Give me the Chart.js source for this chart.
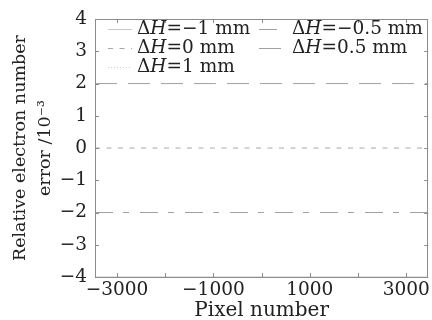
<!DOCTYPE html>
<html>
<head>
<meta charset="utf-8">
<script src="https://cdn.jsdelivr.net/npm/chart.js@4/dist/chart.umd.min.js"></script>
<style>
html,body{margin:0;padding:0;background:#fff;}
#wrap{width:432px;height:320px;position:relative;}
</style>
</head>
<body>
<div id="wrap"><canvas id="c" width="432" height="320"></canvas></div>
<script>
// ---- data ----
const pixelNumbers = [-3456, -3000, -2000, -1000, 0, 1000, 2000, 3000, 3456];
const seriesLabels = ['ΔH=−1 mm', 'ΔH=−0.5 mm', 'ΔH=0 mm', 'ΔH=0.5 mm', 'ΔH=1 mm'];
const errDHm1  = [-4, -4, -4, -4, -4, -4, -4, -4, -4];
const errDHm05 = [-2, -2, -2, -2, -2, -2, -2, -2, -2];
const errDH0   = [0, 0, 0, 0, 0, 0, 0, 0, 0];
const errDH05  = [2, 2, 2, 2, 2, 2, 2, 2, 2];
const errDH1   = [4, 4, 4, 4, 4, 4, 4, 4, 4];
const xTickValues = [-3000, -1000, 1000, 3000];
const yTickValues = [-4, -3, -2, -1, 0, 1, 2, 3, 4];

const FONT = 'DejaVu Serif';
const TXT = '#222';
const FRAME = '#8c8c8c';
const LEG_SIZE = 18.5;

function pts(ys){ return pixelNumbers.map((x,i)=>({x:x,y:ys[i]})); }

const styles = [
  {color:'#c8c8c8', dash:[]},
  {color:'#a0a0a0', dash:[18,10,6,11]},
  {color:'#a8a8a8', dash:[5,6.5]},
  {color:'#a0a0a0', dash:[22,11]},
  {color:'#d0d0d0', dash:[1,2]}
];
const allSeries = [errDHm1, errDHm05, errDH0, errDH05, errDH1];

const datasets = allSeries.map((s,i)=>({
  label: seriesLabels[i],
  data: pts(s),
  borderColor: styles[i].color,
  borderDash: styles[i].dash,
  borderWidth: 1,
  pointRadius: 0,
  fill: false,
  tension: 0
}));

const framePlugin = {
  id:'frame',
  afterDraw(chart){
    const {ctx, chartArea:a, scales} = chart;
    ctx.save();
    ctx.strokeStyle = FRAME;
    ctx.lineWidth = 1;
    ctx.strokeRect(Math.round(a.left)+0.5, Math.round(a.top)+0.5, Math.round(a.right-a.left)-1, Math.round(a.bottom-a.top));
    ctx.beginPath();
    scales.x.ticks.forEach(t=>{
      const px = Math.round(scales.x.getPixelForValue(t.value))+0.5;
      ctx.moveTo(px, a.bottom); ctx.lineTo(px, a.bottom-4);
      ctx.moveTo(px, a.top); ctx.lineTo(px, a.top+4);
    });
    scales.y.ticks.forEach(t=>{
      const py = Math.round(scales.y.getPixelForValue(t.value))+0.5;
      ctx.moveTo(a.left, py); ctx.lineTo(a.left+4, py);
      ctx.moveTo(a.right, py); ctx.lineTo(a.right-4, py);
    });
    ctx.stroke();
    ctx.restore();
  }
};

const legendPlugin = {
  id:'innerLegend',
  afterDraw(chart){
    const ctx = chart.ctx;
    const pos = [
      {sx:108, tx:137, y:29},
      {sx:259, tx:292, y:29},
      {sx:108, tx:137, y:48},
      {sx:259, tx:292, y:48},
      {sx:108, tx:137, y:67}
    ];
    ctx.save();
    chart.data.datasets.forEach((ds,i)=>{
      const p = pos[i];
      ctx.strokeStyle = ds.borderColor;
      ctx.lineWidth = 1;
      ctx.setLineDash(ds.borderDash);
      ctx.beginPath();
      ctx.moveTo(p.sx, p.y+0.5); ctx.lineTo(p.sx+24, p.y+0.5);
      ctx.stroke();
      ctx.setLineDash([]);
      ctx.fillStyle = TXT;
      ctx.textBaseline = 'middle';
      ctx.textAlign = 'left';
      const lbl = ds.label;
      const rest = lbl.slice(2);
      let x = p.tx;
      ctx.font = LEG_SIZE + 'px "' + FONT + '"';
      ctx.fillText('Δ', x, p.y); x += ctx.measureText('Δ').width;
      ctx.font = 'italic ' + LEG_SIZE + 'px "' + FONT + '"';
      ctx.fillText('H', x, p.y); x += ctx.measureText('H').width;
      ctx.font = LEG_SIZE + 'px "' + FONT + '"';
      ctx.fillText(rest, x, p.y);
    });
    ctx.restore();
  }
};

Chart.defaults.font.family = FONT;
Chart.defaults.font.size = 18;
Chart.defaults.color = TXT;

new Chart(document.getElementById('c'), {
  type:'line',
  data:{datasets:datasets},
  options:{
    responsive:false,
    animation:false,
    devicePixelRatio:1,
    layout:{padding:{left:0,right:3,top:15,bottom:0}},
    plugins:{legend:{display:false}, tooltip:{enabled:false}},
    scales:{
      x:{
        type:'linear',
        min:-3456, max:3456,
        grid:{display:false, drawTicks:false},
        border:{display:false},
        afterBuildTicks(scale){
          scale.ticks = [-3000,-2000,-1000,0,1000,2000,3000].map(v=>({value:v}));
        },
        ticks:{
          autoSkip:false, maxRotation:0, padding:2,
          font:{size:18.5},
          callback(v){ return xTickValues.includes(v) ? String(v).replace('-', '−') : ''; }
        },
        title:{display:true, text:'Pixel number', font:{size:20, lineHeight:1.2}, padding:{top:0,bottom:-3}},
        afterFit(scale){ scale.height = 43; }
      },
      y:{
        type:'linear',
        min:-4, max:4,
        grid:{display:false, drawTicks:false},
        border:{display:false},
        afterBuildTicks(scale){
          scale.ticks = yTickValues.map(v=>({value:v}));
        },
        ticks:{
          autoSkip:false, padding:8,
          font:{size:18.5},
          callback(v){ return String(v).replace('-', '−'); }
        },
        title:{display:true, text:['Relative electron number','error /10⁻³'], font:{size:17.5, lineHeight:1.42}, padding:{top:8,bottom:0}},
        afterFit(scale){ scale.width = 95; }
      }
    }
  },
  plugins:[framePlugin, legendPlugin]
});
</script>
</body>
</html>
